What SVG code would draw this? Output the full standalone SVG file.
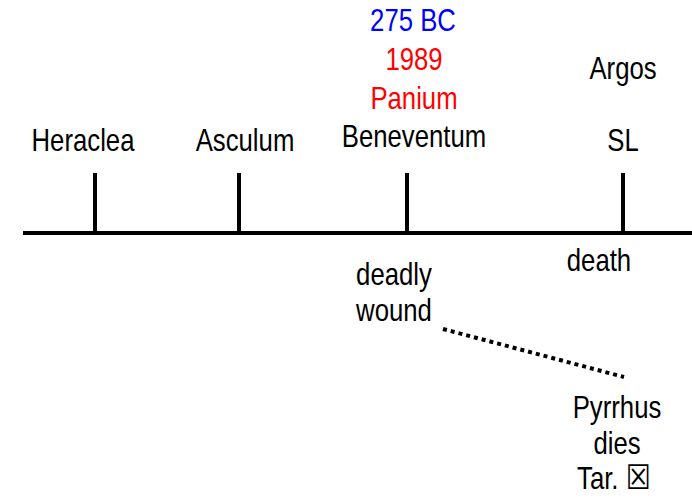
<svg xmlns="http://www.w3.org/2000/svg" width="692" height="502" viewBox="0 0 692 502">
<style>
text{font-family:"Liberation Sans",Arial,"DejaVu Sans",sans-serif;font-size:31px;fill:#000;text-anchor:middle}
.tick{stroke:#000;stroke-width:4}
.blue{fill:#0000ff}
.red{fill:#ff0000}
.sym{font-family:"DejaVu Sans",sans-serif;font-weight:bold;font-size:34px}
</style>
<rect width="692" height="502" fill="#fff"/>
<g id="connectors">
<line x1="23" y1="233" x2="692" y2="233" stroke="#000" stroke-width="4"/>
<line class="tick" x1="95" y1="173" x2="95" y2="233"/>
<line class="tick" x1="239" y1="173" x2="239" y2="233"/>
<line class="tick" x1="407" y1="173" x2="407" y2="233"/>
<line class="tick" x1="623" y1="173" x2="623" y2="233"/>
<line x1="443" y1="329" x2="624" y2="377" stroke="#000" stroke-width="4" stroke-dasharray="4 4"/>
</g>
<g id="heraclea"><text transform="matrix(0.83 0 0 1 83 0)" y="151">Heraclea</text></g>
<g id="asculum"><text transform="matrix(0.83 0 0 1 245 0)" y="151">Asculum</text></g>
<g id="beneventum">
<text class="blue" transform="matrix(0.83 0 0 1 413 0)" y="31">275 BC</text>
<text class="red" transform="matrix(0.83 0 0 1 414 0)" y="70">1989</text>
<text class="red" transform="matrix(0.83 0 0 1 414 0)" y="109">Panium</text>
<text transform="matrix(0.83 0 0 1 414 0)" y="147">Beneventum</text>
</g>
<g id="argos">
<text transform="matrix(0.83 0 0 1 623 0)" y="79">Argos</text>
<text transform="matrix(0.83 0 0 1 623 0)" y="151">SL</text>
</g>
<g id="deadly-wound">
<text transform="matrix(0.83 0 0 1 394 0)" y="285">deadly</text>
<text transform="matrix(0.83 0 0 1 394 0)" y="321">wound</text>
</g>
<g id="death"><text transform="matrix(0.83 0 0 1 599 0)" y="271">death</text></g>
<g id="pyrrhus">
<text transform="matrix(0.83 0 0 1 617 0)" y="418">Pyrrhus</text>
<text transform="matrix(0.83 0 0 1 617 0)" y="454">dies</text>
<text transform="matrix(0.83 0 0 1 614 0)" y="489">Tar. <tspan class="sym">☒</tspan></text>
</g>
</svg>
